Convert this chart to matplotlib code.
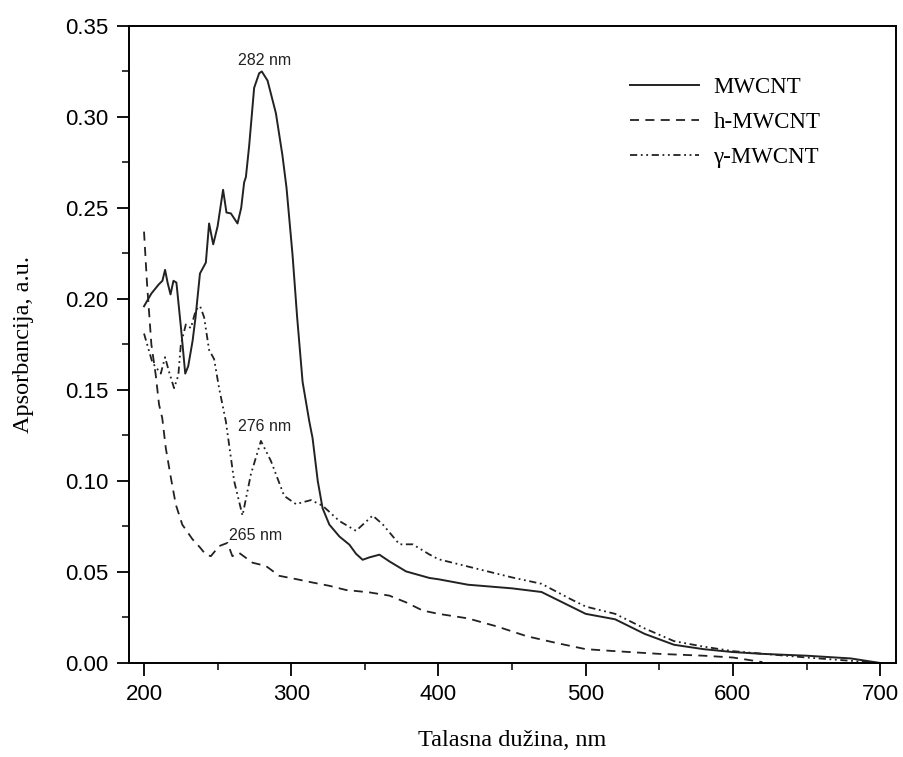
import matplotlib
matplotlib.use("Agg")
import matplotlib.pyplot as plt
from matplotlib.ticker import MultipleLocator, FormatStrFormatter

# MWCNT (solid)
wl_mw = [200, 205, 210, 212.5, 214.3, 216, 218, 220, 222, 225, 228, 230, 233, 235, 238, 242, 244.2, 247,
         250, 253.7, 256, 259, 263.5, 266, 268, 269.2, 271.4, 274.8, 278.2, 280, 283.9, 289.6, 294, 296.8,
         300.9, 304, 307.7, 312.2, 314.5, 318, 321.3, 325.9, 332.7, 339.5, 344, 348.5, 353, 359.9, 366.7,
         378, 393.9, 400, 420, 450, 470, 490, 500, 520, 540, 560, 580, 600, 620, 650, 680, 700]
abs_mw = [0.196, 0.203, 0.208, 0.210, 0.216, 0.209, 0.2025, 0.21, 0.209, 0.185, 0.159, 0.163, 0.177, 0.19, 0.214,
          0.22, 0.2415, 0.23, 0.24, 0.26, 0.2475, 0.247, 0.2415, 0.25, 0.264, 0.267, 0.284, 0.316, 0.324, 0.325,
          0.320, 0.302, 0.279, 0.261, 0.224, 0.19, 0.1545, 0.133, 0.1235, 0.10, 0.085, 0.076, 0.0695, 0.065,
          0.060, 0.0567, 0.058, 0.0595, 0.0558, 0.0503, 0.0467, 0.046, 0.043, 0.041, 0.039, 0.031, 0.027, 0.024,
          0.016, 0.010, 0.0076, 0.006, 0.005, 0.004, 0.0025, 0.0]

# h-MWCNT (dashed)
wl_h = [200, 202, 205, 208, 210.2, 212.4, 214.8, 218.2, 221.6, 226, 232.9, 238, 242, 245.4, 251, 256.7, 260,
        264.6, 273.7, 282.8, 291.8, 303.2, 314.5, 325.9, 337.2, 353, 366.7, 378, 389.3, 400, 420, 440, 460,
        480, 500, 520, 550, 580, 600, 620]
abs_h = [0.237, 0.209, 0.175, 0.158, 0.142, 0.1345, 0.118, 0.102, 0.087, 0.076, 0.068, 0.0635, 0.0595, 0.0587,
         0.0642, 0.066, 0.0587, 0.0605, 0.0551, 0.0533, 0.0479, 0.0461, 0.0442, 0.0424, 0.0401, 0.0388, 0.037,
         0.0333, 0.0288, 0.027, 0.0245, 0.020, 0.0147, 0.011, 0.0076, 0.0065, 0.005, 0.004, 0.003, 0.0005]

# gamma-MWCNT (dash-dot-dot)
wl_g = [200, 205.7, 211.4, 214.3, 217, 220.4, 223.3, 225, 228.4, 231.8, 235.2, 238.1, 240.8, 244.2, 247.6,
        251, 255.6, 261.2, 266.9, 272.6, 279.4, 286.2, 295.2, 303.2, 313.4, 321.3, 332.7, 344, 355.3, 362.1,
        373.5, 382.5, 393.9, 400, 450, 470, 490, 500, 520, 540, 560, 580, 600, 650, 700]
abs_g = [0.181, 0.165, 0.159, 0.168, 0.160, 0.151, 0.158, 0.175, 0.186, 0.184, 0.194, 0.196, 0.190, 0.172,
         0.167, 0.151, 0.1327, 0.100, 0.081, 0.1037, 0.122, 0.111, 0.0918, 0.0873, 0.0895, 0.0864, 0.078,
         0.0726, 0.081, 0.0762, 0.0652, 0.0652, 0.0596, 0.057, 0.047, 0.0435, 0.035, 0.031, 0.027, 0.019, 0.012,
         0.009, 0.0065, 0.003, 0.0]

labels = ["MWCNT", "h-MWCNT", "\u03b3-MWCNT"]
peak_labels = ["282 nm", "276 nm", "265 nm"]
peak_pos = [(281.6, 0.331), (282, 0.130), (276, 0.070)]

fig = plt.figure(figsize=(9.04, 7.57), dpi=100)
ax = fig.add_axes([0.1427, 0.1242, 0.8485, 0.8415])

ax.plot(wl_mw, abs_mw, color="#222222", lw=1.4, ls="-", label=labels[0])
ax.plot(wl_h, abs_h, color="#222222", lw=1.3, ls=(0, (5, 3.5)), label=labels[1])
ax.plot(wl_g, abs_g, color="#222222", lw=1.3, ls=(0, (4, 2, 1, 2, 1, 2)), label=labels[2])

for t, (x, y) in zip(peak_labels, peak_pos):
    ax.text(x, y, t, ha="center", va="center", fontsize=11.5, family="Liberation Sans", color="#222222")

ax.set_xlim(189.8, 710.8)
ax.set_ylim(0, 0.35)
ax.xaxis.set_major_locator(MultipleLocator(100))
ax.xaxis.set_minor_locator(MultipleLocator(50))
ax.yaxis.set_major_locator(MultipleLocator(0.05))
ax.yaxis.set_minor_locator(MultipleLocator(0.025))
ax.yaxis.set_major_formatter(FormatStrFormatter("%.2f"))
ax.tick_params(which="major", direction="out", length=9, width=1.3, labelsize=16, pad=6)
ax.tick_params(which="minor", direction="out", length=5, width=1.1)
for lab in ax.get_xticklabels() + ax.get_yticklabels():
    lab.set_family("Liberation Sans")
for s in ax.spines.values():
    s.set_linewidth(1.4)

ax.set_xlabel("Talasna du\u017eina, nm", family="Liberation Serif", fontsize=17.5, labelpad=18)
ax.set_ylabel("Apsorbancija, a.u.", family="Liberation Serif", fontsize=17.5, labelpad=22)

leg = ax.legend(loc="upper left", bbox_to_anchor=(0.626, 0.952), frameon=False, handlelength=3.0,
                handletextpad=0.65, prop={"family": "Liberation Serif", "size": 16.5}, labelspacing=0.6)

fig.savefig("out.png", dpi=100)
